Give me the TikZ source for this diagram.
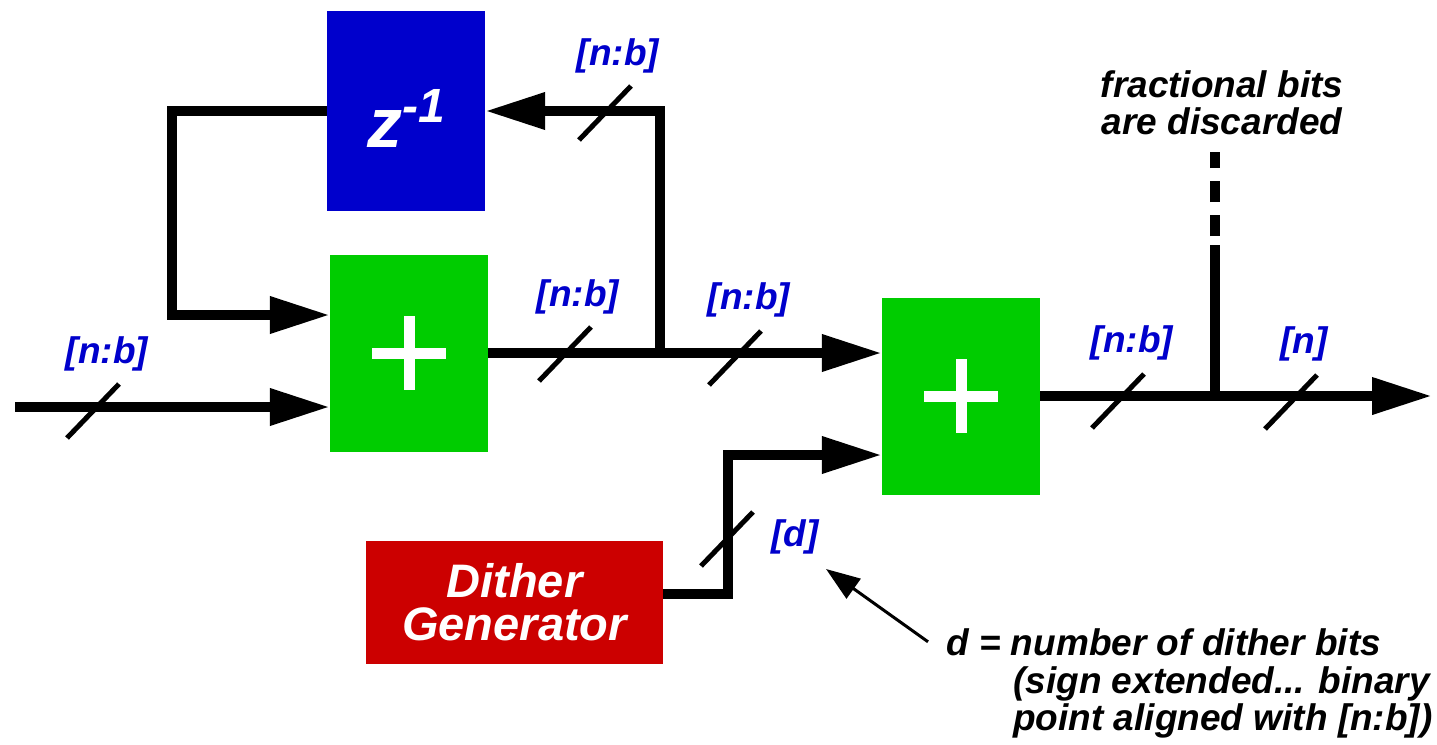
\documentclass[tikz,border=0pt]{standalone}
\usepackage{fontspec}
\setmainfont{Liberation Sans}
\usetikzlibrary{arrows.meta,calc}
\definecolor{delayblue}{RGB}{0,0,204}
\definecolor{sumgreen}{RGB}{0,204,0}
\definecolor{dithred}{RGB}{204,0,0}
\definecolor{buslabel}{RGB}{0,0,204}

\begin{document}
\begin{tikzpicture}[x=1pt,y=-1pt,
  block/.style={draw=none, inner sep=0pt, text=white, font=\bfseries\itshape},
  sumblock/.style={block, fill=sumgreen, minimum width=158pt, minimum height=197pt},
  wire/.style={line width=10pt},
  sig/.style={wire, -{Triangle[length=60pt,width=35pt]}},
  busslash/.style={line width=5pt},
  buslab/.style={inner sep=0pt, text=buslabel, font=\fontsize{37}{40}\selectfont\bfseries\itshape},
  note/.style={inner sep=0pt, font=\fontsize{37}{37}\selectfont\bfseries\itshape},
  plusbar/.style={white, line width=11pt},
  pointer/.style={line width=3pt, -{Triangle[length=34pt,width=24pt]}}
]
\useasboundingbox (0,0) rectangle (1437,744);

% blocks
\node[block, fill=delayblue, minimum width=158pt, minimum height=200pt] (delay) at (406,111)
  {\raisebox{-36pt}[0pt][0pt]{\fontsize{70}{70}\selectfont z\raisebox{25pt}{\fontsize{48}{48}\selectfont -1}}};
\node[sumblock] (sum1) at (409,353) {};
\node[sumblock] (sum2) at (961,396) {};
\node[block, fill=dithred, minimum width=297pt, minimum height=123pt, align=center,
  font=\fontsize{47}{43}\selectfont\bfseries\itshape] (dither) at (514.5,602.5) {Dither\\Generator};

% summing symbols
\foreach \s in {sum1,sum2} {
  \draw[plusbar] ($(\s.center)+(-37,0)$) -- ($(\s.center)+(37,0)$);
  \draw[plusbar] ($(\s.center)+(0,-37)$) -- ($(\s.center)+(0,37)$);
}

% signal paths
\coordinate (in) at (15,407);
\draw[sig] (in) -- (in -| sum1.west);

\coordinate (fb) at (172,315);
\draw[sig] (delay.west) -| (fb) -- (fb -| sum1.west);

\draw[sig] (sum1.east) -- (sum1.east -| sum2.west);
\coordinate (j1) at (660,353);
\draw[sig] (j1) |- (delay.east);

\coordinate (dk) at (728,455);
\draw[sig] ([yshift=9pt]dither.east) -| (dk) -- (dk -| sum2.west);

\coordinate (out) at (1432,396);
\draw[sig] (sum2.east) -- (out);

% truncation tap
\coordinate (j2) at (1215,396);
\coordinate (tapA) at (1215,245);
\coordinate (tapB) at (1215,236);
\coordinate (tapC) at (1215,152);
\draw[wire] (j2) -- (tapA);
\draw[wire, dash pattern=on 21pt off 13pt] (tapB) -- (tapC);

% bus-width marks
\foreach \x/\y in {93/411, 605/113, 565/354, 735/358, 1118/401, 1291/402, 727/539}
  \draw[busslash] (\x,\y) ++(-26,27) -- ++(52,-54);

% bus-width labels
\node[buslab] (lin)   at (107,354)  {[n:b]};
\node[buslab] (lfb)   at (618,56)   {[n:b]};
\node[buslab] (ls1)   at (578,297)  {[n:b]};
\node[buslab] (lmid)  at (749,300)  {[n:b]};
\node[buslab] (ls2)   at (1132,343) {[n:b]};
\node[buslab] (lout)  at (1304,344) {[n]};
\node[buslab] (ldith) at (795,537)  {[d]};

% notes
\node[note, align=center] (discard) at (1222,103) {fractional bits\\are discarded};
\node[note, anchor=base west] (n1) at (946,655) {d = number of dither bits};
\node[note, anchor=base west] (n2) at (1013,693) {(sign extended... binary};
\node[note, anchor=base west] (n3) at (1013,730) {point aligned with [n:b])};

\coordinate (dtip) at (826,569);
\draw[pointer] ([xshift=-18pt]n1.west) -- (dtip);
\end{tikzpicture}
\end{document}
